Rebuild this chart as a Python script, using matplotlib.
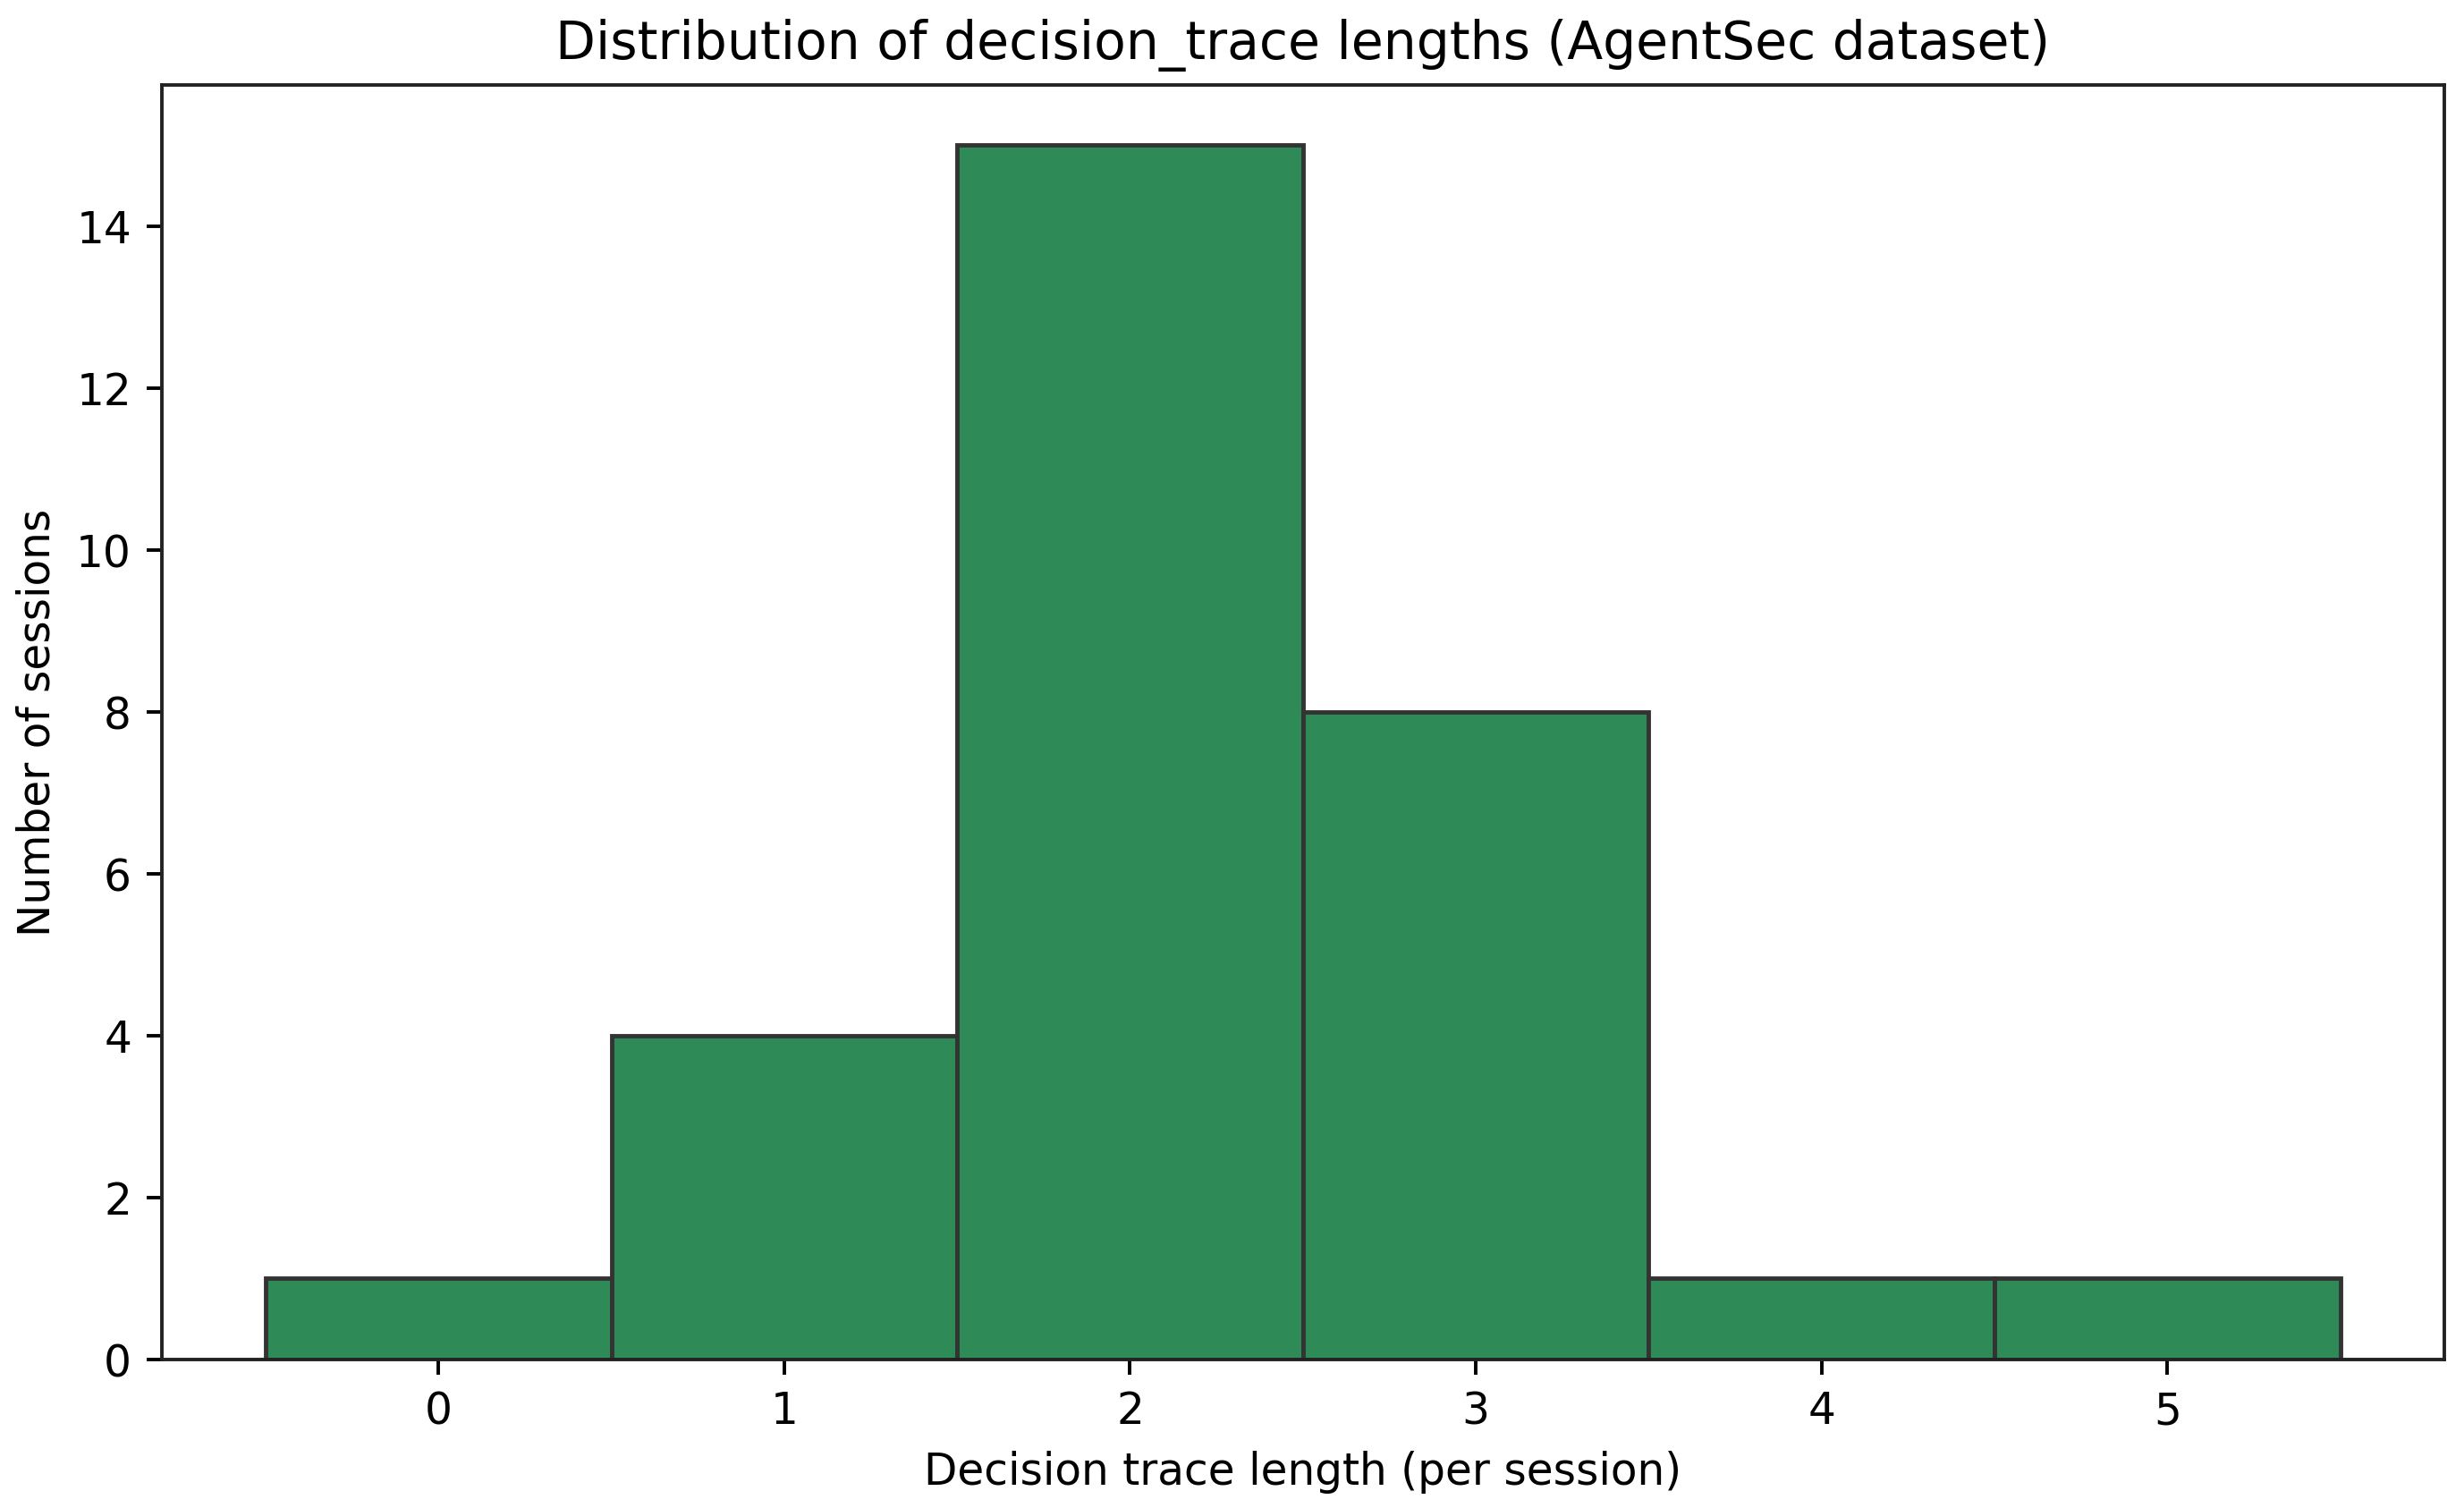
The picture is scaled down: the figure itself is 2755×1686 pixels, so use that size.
import matplotlib
matplotlib.use("Agg")
import matplotlib.pyplot as plt
import numpy as np

trace_lengths = [0, 1, 2, 3, 4, 5]
session_counts = [1, 4, 15, 8, 1, 1]

fig = plt.figure(figsize=(2755.4 / 350, 1686.4 / 350), dpi=350)
ax = fig.add_axes([0.0657, 0.0985, 0.926, 0.8452])

bins = np.arange(min(trace_lengths) - 0.5, max(trace_lengths) + 1.5, 1)
ax.hist(trace_lengths, bins=bins, weights=session_counts,
        color="#2e8b57", edgecolor="#333333", linewidth=1.0)

ax.set_xticks(trace_lengths)
ax.set_title("Distribution of decision_trace lengths (AgentSec dataset)", fontsize=12)
ax.set_xlabel("Decision trace length (per session)")
ax.set_ylabel("Number of sessions")
for s in ax.spines.values():
    s.set_color("#222222")

fig.savefig("out.png", dpi=350)
